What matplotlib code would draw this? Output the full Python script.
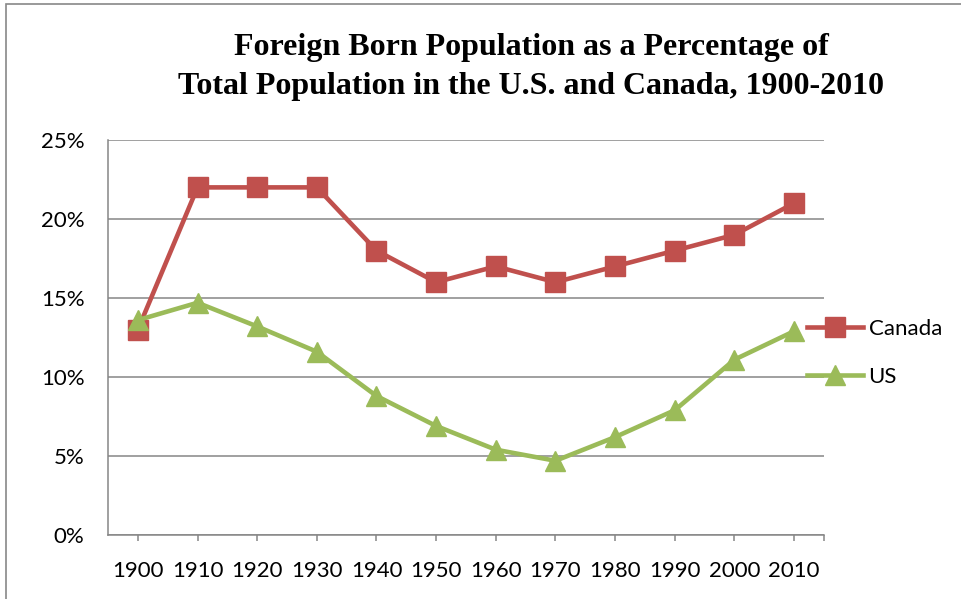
import matplotlib.pyplot as plt
from matplotlib.patches import Rectangle
from matplotlib.ticker import FuncFormatter

years = ['1900', '1910', '1920', '1930', '1940', '1950',
         '1960', '1970', '1980', '1990', '2000', '2010']
canada = [13.0, 22.0, 22.0, 22.0, 18.0, 16.0, 17.0, 16.0, 17.0, 18.0, 19.0, 21.0]
us = [13.6, 14.7, 13.2, 11.6, 8.8, 6.9, 5.4, 4.7, 6.2, 7.9, 11.1, 12.9]

plt.rcParams['font.family'] = ['Lato', 'DejaVu Sans']

fig = plt.figure(figsize=(9.61, 5.99), dpi=100)
ax = fig.add_axes([0.1124, 0.1068, 0.7450, 0.6595])

x = list(range(len(years)))
grid_col = '#868686'

ax.plot(x, canada, color='#C0504D', lw=3.3, marker='s', markersize=14,
        label='Canada', zorder=3)
ax.plot(x, us, color='#9BBB59', lw=3.3, marker='^', markersize=14,
        label='US', zorder=4)

ax.set_xlim(-0.5, 11.5)
ax.set_ylim(0, 25)
ax.set_yticks([0, 5, 10, 15, 20, 25])
ax.yaxis.set_major_formatter(FuncFormatter(lambda v, p: '%d%%' % v))
ax.yaxis.grid(True, color=grid_col, lw=1.1)
ax.set_axisbelow(True)

# excel style: ticks at category centres plus one at the right edge
ax.set_xticks(x + [11.5])
ax.set_xticklabels(years + [''])

for s in ['top', 'right']:
    ax.spines[s].set_visible(False)
for s in ['left', 'bottom']:
    ax.spines[s].set_color(grid_col)
    ax.spines[s].set_linewidth(1.1)

ax.tick_params(axis='y', length=0, pad=17, labelsize=16)
ax.tick_params(axis='x', length=4.5, width=1.1, color=grid_col, pad=14, labelsize=16)

fig.text(0.5525, 0.945, 'Foreign Born Population as a Percentage of\nTotal Population in the U.S. and Canada, 1900-2010',
         ha='center', va='top', fontsize=23, fontweight='bold',
         family='Liberation Serif', linespacing=1.45)

leg = fig.legend(loc='center left', bbox_to_anchor=(0.831, 0.411), frameon=False,
                 fontsize=16, handlelength=2.5, handletextpad=0.25, labelspacing=1.25,
                 borderaxespad=0)

# outer chart border
fig.patches.append(Rectangle((6 / 961, -0.1), 1.2, 1.1 - 4 / 599, transform=fig.transFigure,
                             fill=False, edgecolor='#888888', lw=1.2))

plt.savefig('out.png', dpi=100)
